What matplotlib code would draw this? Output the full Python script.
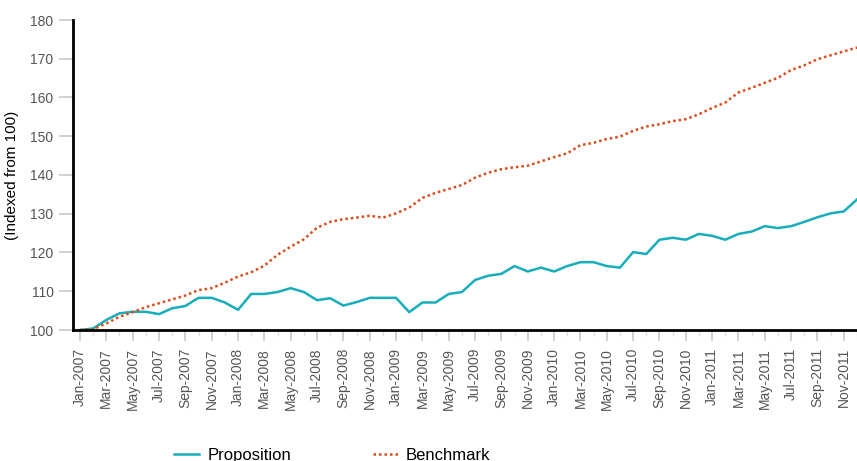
import numpy as np
import pandas as pd
import matplotlib
matplotlib.use("Agg")
import matplotlib.pyplot as plt

plt.rcParams["font.family"] = ["Liberation Sans", "DejaVu Sans"]

# monthly index values, Jan-2007 .. Dec-2011
months = pd.date_range("2007-01-01", "2011-12-01", freq="MS")
month_labels = [d.strftime("%b-%Y") for d in months]

proposition = [
    100.0, 100.4, 102.6, 104.3, 104.7, 104.7, 104.1, 105.6, 106.2, 108.3, 108.3, 107.1,
    105.2, 109.3, 109.3, 109.8, 110.8, 109.8, 107.7, 108.2, 106.3, 107.2, 108.3, 108.3,
    108.3, 104.6, 107.1, 107.1, 109.3, 109.8, 112.9, 114.0, 114.5, 116.5, 115.1, 116.1,
    115.1, 116.5, 117.5, 117.5, 116.5, 116.1, 120.1, 119.6, 123.3, 123.8, 123.3, 124.8,
    124.3, 123.3, 124.8, 125.4, 126.8, 126.3, 126.8, 127.9, 129.1, 130.1, 130.6, 133.7,
]
benchmark = [
    100.0, 100.2, 101.7, 103.4, 104.6, 105.9, 106.9, 107.9, 108.9, 110.3, 110.8, 112.2,
    113.8, 114.9, 116.6, 119.4, 121.5, 123.4, 126.4, 127.9, 128.6, 129.0, 129.5, 129.0,
    130.1, 131.6, 134.1, 135.4, 136.4, 137.4, 139.3, 140.6, 141.5, 142.0, 142.4, 143.5,
    144.6, 145.6, 147.7, 148.3, 149.3, 149.9, 151.4, 152.5, 153.1, 153.9, 154.4, 155.7,
    157.3, 158.7, 161.3, 162.5, 163.8, 165.1, 167.1, 168.3, 169.9, 170.9, 171.9, 172.9,
]

x = np.arange(len(months))

fig = plt.figure(figsize=(8.57, 4.61), dpi=100)
ax = fig.add_axes([73 / 857, 1 - 330 / 461, 1 - 73 / 857, 310 / 461])

ax.plot(x, proposition, color="#17adba", lw=1.8, label="Proposition")
ax.plot(x, benchmark, color="#dd4a17", lw=1.8, ls=(0, (1, 1.2)), label="Benchmark")

ax.set_xlim(-0.53, 58.9)
ax.set_ylim(100, 180)
ax.set_yticks(range(100, 181, 10))
ax.set_xticks(x[::2])
ax.set_xticklabels(month_labels[::2], rotation=90)
ax.set_xticks(x[1::2], minor=True)

for s in ["top", "right"]:
    ax.spines[s].set_visible(False)
for s in ["left", "bottom"]:
    ax.spines[s].set_linewidth(2)
    ax.spines[s].set_color("black")
    ax.spines[s].set_zorder(5)

ax.tick_params(axis="y", length=10, width=1.2, color="#c8c8c8", labelcolor="#555555",
               labelsize=10, pad=4)
ax.tick_params(axis="x", which="major", length=8, width=1.2, color="#c8c8c8",
               labelcolor="#555555", labelsize=10, pad=5)
ax.tick_params(axis="x", which="minor", length=4, width=1.0, color="#e0e0e0")

ax.set_ylabel("(Indexed from 100)", fontsize=11, labelpad=8)

fig.legend(loc="center left", bbox_to_anchor=(174 / 857, 6 / 461), ncol=2, frameon=False,
           fontsize=12, handlelength=1.5, handletextpad=0.5, columnspacing=4.9,
           borderpad=0, borderaxespad=0)

fig.savefig("out.png", dpi=100)
